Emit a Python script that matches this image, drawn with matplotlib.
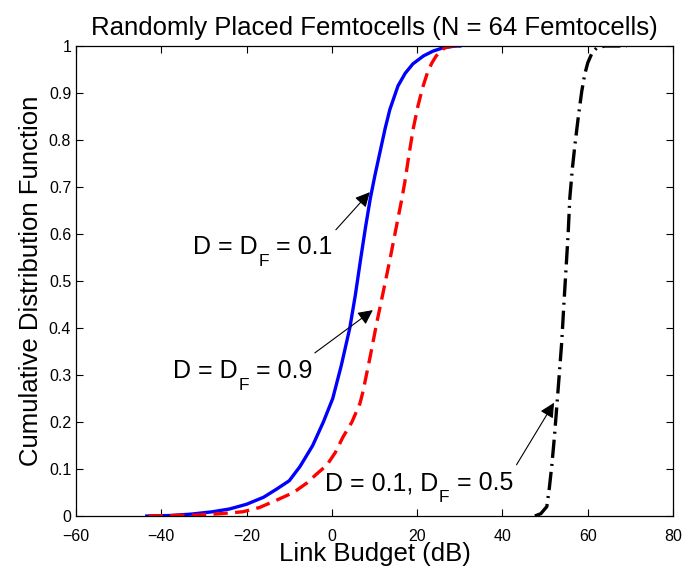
import numpy as np
import matplotlib.pyplot as plt

plt.rcParams['font.family'] = ['Liberation Sans', 'DejaVu Sans']

# D = DF = 0.1 (blue, solid)
x_d01 = [-43.4, -38, -33, -28, -24, -20, -16, -13, -10, -7.5, -4.5, -2, 0.2,
         2.2, 4.2, 5.5, 6.8, 7.9, 9.0, 10.1, 11.3, 12.5, 13.6, 15.5, 17.2, 19,
         21.5, 23.7, 26, 29, 30]
y_d01 = [0, 0.001, 0.004, 0.009, 0.015, 0.025, 0.04, 0.057, 0.075, 0.105, 0.15,
         0.2, 0.25, 0.32, 0.40, 0.47, 0.55, 0.615, 0.675, 0.725, 0.775, 0.825,
         0.865, 0.915, 0.942, 0.962, 0.979, 0.989, 0.996, 1.0, 1.0]

# D = DF = 0.9 (red, dashed)
x_d09 = [-43, -31.7, -26, -20.9, -17, -12.9, -9, -5.9, -3.5, -1.2, 0.8, 2.6,
         4.7, 6.6, 7.3, 9, 10.5, 12, 13.6, 15, 16.3, 17.1, 18.1, 19.1, 20.2,
         21.3, 22.4, 23.4, 24.4, 25.3, 26.5, 28, 30]
y_d09 = [0, 0.002, 0.005, 0.009, 0.018, 0.034, 0.05, 0.07, 0.09, 0.108, 0.135,
         0.168, 0.2, 0.24, 0.265, 0.34, 0.41, 0.475, 0.545, 0.61, 0.67, 0.71,
         0.77, 0.825, 0.873, 0.912, 0.943, 0.963, 0.978, 0.988, 0.996, 1.0, 1.0]

# D = 0.1, DF = 0.5 (black, dash-dot)
x_mix = [47.6, 49, 50.4, 51, 51.6, 52.2, 52.8, 53.4, 53.9, 54.4, 54.9, 55.4,
         55.8, 56.4, 57, 57.8, 58.6, 59.3, 60, 61, 62.1, 64, 69.2]
y_mix = [0, 0.005, 0.02, 0.06, 0.11, 0.17, 0.24, 0.31, 0.37, 0.45, 0.525, 0.6,
         0.677, 0.74, 0.79, 0.85, 0.904, 0.94, 0.964, 0.985, 0.996, 1.0, 1.0]

xticks = [-60, -40, -20, 0, 20, 40, 60, 80]
yticks = [0, 0.1, 0.2, 0.3, 0.4, 0.5, 0.6, 0.7, 0.8, 0.9, 1]
ytick_labels = ['0', '0.1', '0.2', '0.3', '0.4', '0.5', '0.6', '0.7', '0.8', '0.9', '1']

fig = plt.figure(figsize=(6.83, 5.77), dpi=100)
ax = fig.add_axes([0.1113, 0.1057, 0.8741, 0.8146])

ax.plot(x_d01, y_d01, color='#0000ff', lw=2.4)
ax.plot(x_d09, y_d09, color='#ff0000', lw=2.4, linestyle=(0, (4.3, 2.2)))
ax.plot(x_mix, y_mix, color='k', lw=2.4, linestyle=(0, (5.5, 1.8, 0.6, 1.8)))

ax.set_xlim(-60, 80)
ax.set_ylim(0, 1)
ax.set_xticks(xticks)
ax.set_xticklabels([str(t).replace('-', '\u2212') for t in xticks])
ax.set_yticks(yticks)
ax.set_yticklabels(ytick_labels)
ax.tick_params(direction='in', top=True, right=True, length=5, width=0.8,
               labelsize=11.5)
ax.tick_params(axis='x', pad=9)
for s in ax.spines.values():
    s.set_linewidth(0.9)

ax.set_title('Randomly Placed Femtocells (N = 64 Femtocells)', fontsize=18.5, pad=8)
ax.set_xlabel('Link Budget (dB)', fontsize=18.5, labelpad=-1)
ax.set_ylabel('Cumulative Distribution Function', fontsize=18.5, labelpad=4)

arrow = dict(arrowstyle='-|>', color='k', lw=0.8, mutation_scale=22,
             shrinkA=0, shrinkB=0)
ax.annotate('', xy=(8.9, 0.689), xytext=(0.94, 0.609), arrowprops=arrow)
ax.annotate('', xy=(9.6, 0.438), xytext=(-4.0, 0.347), arrowprops=arrow)
ax.annotate('', xy=(52.1, 0.241), xytext=(43.3, 0.109), arrowprops=arrow)


def label(x, y, head, sub, tail):
    # MATLAB style subscript: smaller and dropped well below the baseline
    t = ax.text(x, y, head, fontsize=18, va='baseline')
    s = ax.annotate(sub, xy=(1, 0), xycoords=t, xytext=(0.5, -7),
                    textcoords='offset points', fontsize=12.5, va='bottom')
    ax.annotate(tail, xy=(1, 0), xycoords=s, xytext=(0, 7),
                textcoords='offset points', fontsize=18, va='bottom')


label(-32.6, 0.557, 'D = D', 'F', ' = 0.1')
label(-37.3, 0.294, 'D = D', 'F', ' = 0.9')
label(-1.6, 0.055, 'D = 0.1, D', 'F', ' = 0.5')

fig.savefig('out.png', dpi=100)
